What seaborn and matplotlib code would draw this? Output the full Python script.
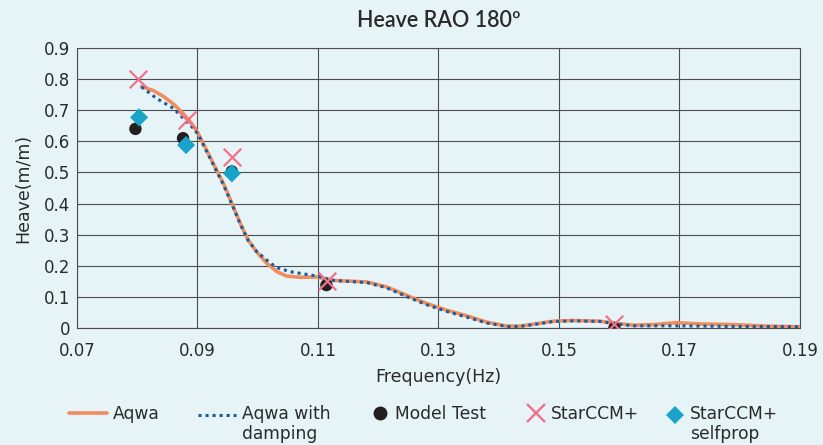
import matplotlib
matplotlib.use("Agg")
import matplotlib.pyplot as plt
import seaborn as sns
from matplotlib.lines import Line2D
from matplotlib.legend_handler import HandlerLine2D
from matplotlib.transforms import Affine2D

# ---- data ----
aqwa_x = [0.0807, 0.0827, 0.0843, 0.0860, 0.0876, 0.0890, 0.0901, 0.0915, 0.0929, 0.0943,
          0.0957, 0.0971, 0.0984, 0.0998, 0.1015, 0.1032, 0.1048, 0.1070, 0.1098, 0.1125,
          0.1181, 0.1214, 0.1247, 0.1280, 0.1314, 0.1347, 0.1380, 0.1413, 0.1435, 0.1457,
          0.1491, 0.1524, 0.1568, 0.1596, 0.1624, 0.1657, 0.1695, 0.1734, 0.1789, 0.1845,
          0.1900]
aqwa_y = [0.776, 0.763, 0.745, 0.720, 0.690, 0.658, 0.626, 0.572, 0.518, 0.465,
          0.401, 0.336, 0.283, 0.245, 0.208, 0.181, 0.167, 0.163, 0.164, 0.153,
          0.148, 0.132, 0.105, 0.079, 0.057, 0.039, 0.019, 0.006, 0.006, 0.012,
          0.022, 0.024, 0.022, 0.014, 0.009, 0.011, 0.017, 0.013, 0.011, 0.006,
          0.004]
damp_x = [0.0807, 0.0832, 0.0860, 0.0893, 0.0901, 0.0915, 0.0929, 0.0943, 0.0957, 0.0971,
          0.0984, 0.0998, 0.1020, 0.1032, 0.1054, 0.1076, 0.1098, 0.1125, 0.1181, 0.1214,
          0.1247, 0.1280, 0.1314, 0.1347, 0.1380, 0.1413, 0.1435, 0.1457, 0.1491, 0.1524,
          0.1568, 0.1596, 0.1624, 0.1695, 0.1789, 0.1900]
damp_y = [0.775, 0.738, 0.706, 0.642, 0.622, 0.568, 0.514, 0.461, 0.398, 0.334,
          0.282, 0.246, 0.210, 0.194, 0.181, 0.174, 0.167, 0.153, 0.146, 0.129,
          0.101, 0.075, 0.053, 0.035, 0.016, 0.005, 0.005, 0.011, 0.021, 0.023,
          0.021, 0.013, 0.007, 0.007, 0.005, 0.004]
model_x = [0.0797, 0.0876, 0.0957, 0.1114, 0.1592]
model_y = [0.64, 0.61, 0.503, 0.138, 0.0]
star_x = [0.0802, 0.0882, 0.0957, 0.1115, 0.1592]
star_y = [0.80, 0.667, 0.549, 0.152, 0.013]
self_x = [0.0803, 0.0881, 0.0957]
self_y = [0.677, 0.588, 0.497]

x_ticks = [0.07, 0.09, 0.11, 0.13, 0.15, 0.17, 0.19]
x_ticklabels = ["0.07", "0.09", "0.11", "0.13", "0.15", "0.17", "0.19"]
y_ticks = [0, 0.1, 0.2, 0.3, 0.4, 0.5, 0.6, 0.7, 0.8, 0.9]
y_ticklabels = ["0", "0.1", "0.2", "0.3", "0.4", "0.5", "0.6", "0.7", "0.8", "0.9"]
labels = ["Aqwa", "Aqwa with\ndamping", "Model Test", "StarCCM+", "StarCCM+\nselfprop"]

BG = "#E6F4F8"
TXT = "#2A2A2A"
GRID = "#4D4D4D"
C_AQWA = "#F38C5C"
C_DAMP = "#145C9E"
C_MODEL = "#231F20"
C_STAR = "#F2718A"
C_SELF = "#1AA3C8"

sns.set_theme(style="white")
plt.rcParams["font.family"] = ["DejaVu Sans"]

W, H = 823, 445
fig = plt.figure(figsize=(W / 100, H / 100), dpi=100, facecolor=BG)
ax = fig.add_axes([77 / W, 1 - 328 / H, (800 - 77) / W, (328 - 48) / H])
ax.set_facecolor(BG)

sns.lineplot(x=aqwa_x, y=aqwa_y, ax=ax, color=C_AQWA, linewidth=2.6, sort=False,
             zorder=3, solid_joinstyle="round", solid_capstyle="round")
sns.lineplot(x=damp_x, y=damp_y, ax=ax, color=C_DAMP, linewidth=2.2,
             linestyle=(0, (1, 1.3)), sort=False, zorder=4)
sns.scatterplot(x=model_x, y=model_y, ax=ax, color=C_MODEL, s=80, marker="o",
                edgecolor="none", zorder=5)
sns.scatterplot(x=star_x, y=star_y, ax=ax, color=C_STAR, s=160, marker="x",
                linewidth=1.6, zorder=6)
sns.scatterplot(x=self_x, y=self_y, ax=ax, color=C_SELF, s=85, marker="D",
                edgecolor="none", zorder=5)

ax.set_xlim(0.07, 0.19)
ax.set_ylim(0, 0.9)
ax.set_xticks(x_ticks)
ax.set_xticklabels(x_ticklabels)
ax.set_yticks(y_ticks)
ax.set_yticklabels(y_ticklabels)
ax.grid(True, color=GRID, linewidth=0.8)
ax.set_axisbelow(True)
for s in ax.spines.values():
    s.set_color(GRID)
    s.set_linewidth(0.8)
ax.tick_params(axis="x", labelsize=12, colors=TXT, length=0, pad=10)
ax.tick_params(axis="y", labelsize=12, colors=TXT, length=0, pad=5)
ax.set_xlabel("Frequency(Hz)", fontsize=12.5, color=TXT, labelpad=6)
ax.set_ylabel("Heave(m/m)", fontsize=12.5, color=TXT, labelpad=8)
ax.set_title("Heave RAO 180º", fontsize=15.5, color=TXT, fontweight="semibold",
             family=["Lato", "DejaVu Sans"], pad=15)


# ---- legend: one small legend per entry, placed like the reference ----
def shifted(dy):
    class Hnd(HandlerLine2D):
        def create_artists(self, legend, orig_handle, xdescent, ydescent, width,
                           height, fontsize, trans):
            t = Affine2D().translate(0, dy) + trans
            return super().create_artists(legend, orig_handle, xdescent, ydescent,
                                          width, height, fontsize, t)
    return Hnd()


handles = [
    Line2D([], [], color=C_AQWA, linewidth=2.6),
    Line2D([], [], color=C_DAMP, linewidth=2.2, linestyle=(0, (1, 1.3))),
    Line2D([], [], color=C_MODEL, linestyle="none", marker="o", markersize=10,
           markeredgewidth=0),
    Line2D([], [], color=C_STAR, linestyle="none", marker="x", markersize=13,
           markeredgewidth=1.7),
    Line2D([], [], color=C_SELF, linestyle="none", marker="D", markersize=9.5,
           markeredgewidth=0),
]
fs = 12.3
lead_px = [69, 198, 371, 527, 666]
hlen = [2.2, 2.2, 1.05, 1.05, 1.05]
top_px = 405
for hnd, lab, x0, hl in zip(handles, labels, lead_px, hlen):
    dy = 7.0 if "\n" in lab else 0.0
    leg = fig.legend([hnd], [lab], loc="upper left",
                     bbox_to_anchor=(x0 / W, 1 - top_px / H),
                     frameon=False, fontsize=fs, handlelength=hl, handletextpad=0.35,
                     borderpad=0, borderaxespad=0, labelcolor=TXT, numpoints=1,
                     handler_map={Line2D: shifted(dy)})
    for t in leg.get_texts():
        t.set_linespacing(1.12)

fig.savefig("out.png", dpi=100, facecolor=BG)
